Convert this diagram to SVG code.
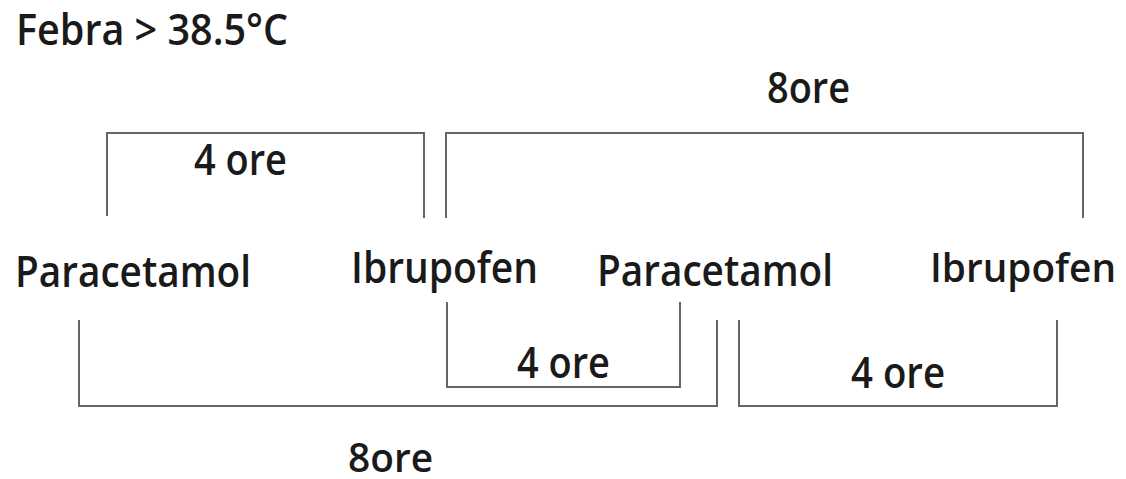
<svg xmlns="http://www.w3.org/2000/svg" width="1126" height="479" viewBox="0 0 1126 479">
<style>
  .lbl { font-family: "Open Sans", "Noto Sans", "Liberation Sans", sans-serif; font-size: 43px; font-weight: 600; fill: #1a1a1a; }
  .sm { font-size: 40px; }
  .br { fill: none; stroke: #666; stroke-width: 2; }
</style>
<rect width="1126" height="479" fill="#fff"/>
<g id="title"><text class="lbl" x="16" y="45" textLength="272" lengthAdjust="spacingAndGlyphs">Febra &gt; 38.5°C</text></g>
<g id="paracetamol1"><text class="lbl" x="15" y="287" textLength="236" lengthAdjust="spacingAndGlyphs">Paracetamol</text></g>
<g id="ibrupofen1"><text class="lbl" x="351" y="283" textLength="187" lengthAdjust="spacingAndGlyphs">Ibrupofen</text></g>
<g id="paracetamol2"><text class="lbl" x="597" y="286" textLength="236" lengthAdjust="spacingAndGlyphs">Paracetamol</text></g>
<g id="ibrupofen2"><text class="lbl sm" x="930" y="282" textLength="186" lengthAdjust="spacingAndGlyphs">Ibrupofen</text></g>
<g id="connectors">
  <path class="br" d="M107,216 V133 H424 V218"/>
  <path class="br" d="M446,218 V133 H1083 V218"/>
  <path class="br" d="M447,302 V387 H680 V302"/>
  <path class="br" d="M79,320 V406 H717 V320"/>
  <path class="br" d="M739,320 V406 H1057 V320"/>
  <text class="lbl" x="194" y="175" textLength="93" lengthAdjust="spacingAndGlyphs">4 ore</text>
  <text class="lbl" x="767" y="103" textLength="83" lengthAdjust="spacingAndGlyphs">8ore</text>
  <text class="lbl" x="517" y="378" textLength="93" lengthAdjust="spacingAndGlyphs">4 ore</text>
  <text class="lbl" x="851" y="388" textLength="94" lengthAdjust="spacingAndGlyphs">4 ore</text>
  <text class="lbl sm" x="348" y="472" textLength="85" lengthAdjust="spacingAndGlyphs">8ore</text>
</g>
</svg>
